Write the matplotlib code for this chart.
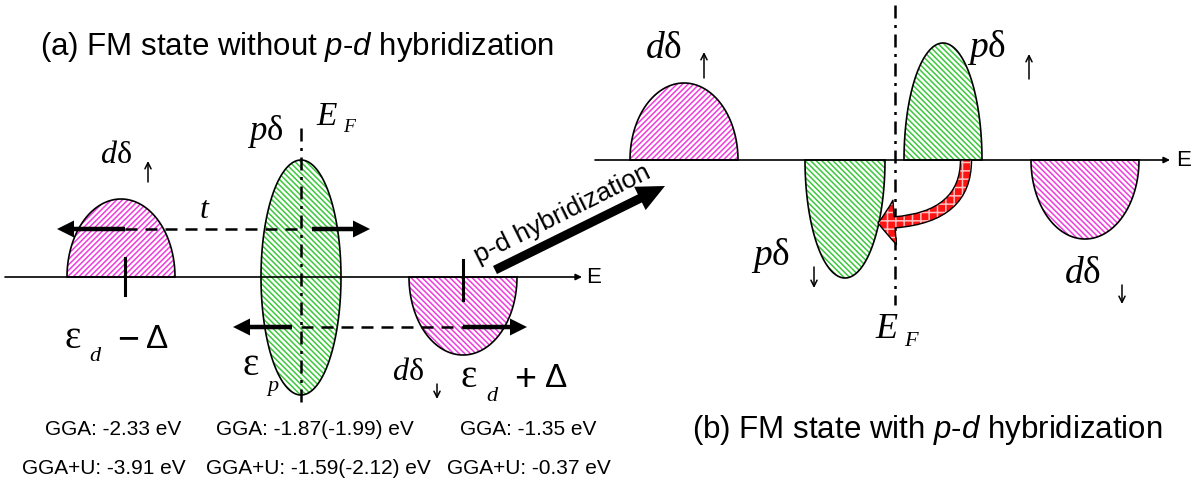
import numpy as np
import matplotlib.pyplot as plt
import matplotlib.patches as patches

plt.rcParams['hatch.linewidth'] = 1.1
plt.rcParams['mathtext.fontset'] = 'custom'
plt.rcParams['mathtext.rm'] = 'Liberation Serif'
plt.rcParams['mathtext.it'] = 'Liberation Serif:italic'
plt.rcParams['mathtext.sf'] = 'Liberation Sans:italic'

PINK = '#f03cdc'
GREEN = '#3cc83c'
SANS = 'Liberation Sans'
SERIF = 'Liberation Serif'

# panel (a): bands along the energy axis (pixel units, y grows downward)
A_BASE = 277
A_CENTER = [121, 301, 463]
A_HALFW = [54, 40, 54]
A_UP = [78, 117, 0]
A_DOWN = [0, 118, 78]
A_COLOR = [PINK, GREEN, PINK]
A_HATCH = ['//////', '\\' * 6, '\\' * 6]

# panel (b): after p-d hybridization
B_BASE = 160
B_CENTER = [684, 943, 845, 1085]
B_HALFW = [54, 39, 40, 54]
B_UP = [77, 117, 0, 0]
B_DOWN = [0, 0, 118, 79]
B_COLOR = [PINK, GREEN, GREEN, PINK]
B_HATCH = ['//////', '\\' * 6, '\\' * 6, '\\' * 6]

# level energies
GGA = ['GGA: -2.33 eV', 'GGA: -1.87(-1.99) eV', 'GGA: -1.35 eV']
GGAU = ['GGA+U: -3.91 eV', 'GGA+U: -1.59(-2.12) eV', 'GGA+U: -0.37 eV']
GGA_X = [113, 315, 528]
GGAU_X = [104, 318, 529]


def draw_band(ax, c, hw, up, down, base, color, hatch):
    t = np.linspace(0, 2 * np.pi, 200)
    s = np.sin(t)
    x = c + hw * np.cos(t)
    y = base - np.where(s > 0, up, down) * s
    xy = np.column_stack([x, y])
    ax.add_patch(patches.Polygon(xy, closed=True, facecolor='white',
                                 edgecolor=color, hatch=hatch, lw=0))
    ax.add_patch(patches.Polygon(xy, closed=True, fill=False,
                                 edgecolor='black', lw=1.2))


def thick_arrow(ax, x0, y0, x1, y1, width=4.5, hw=17, hl=17):
    ax.arrow(x0, y0, x1 - x0, y1 - y0, width=width, head_width=hw,
             head_length=hl, length_includes_head=True, color='black', lw=0)


def thin_arrow(ax, x, y0, y1):
    ax.annotate('', xy=(x, y1), xytext=(x, y0),
                arrowprops=dict(arrowstyle='->', lw=1.1, color='black',
                                mutation_scale=11, shrinkA=0, shrinkB=0))


def axis_line(ax, x0, x1, y):
    ax.annotate('', xy=(x1, y), xytext=(x0, y),
                arrowprops=dict(arrowstyle='-|>', lw=1.2, color='black',
                                mutation_scale=9, shrinkA=0, shrinkB=0))


fig = plt.figure(figsize=(12.02, 4.86), dpi=100)
ax = fig.add_axes([0, 0, 1, 1])
ax.set_xlim(0, 1202)
ax.set_ylim(486, 0)
ax.axis('off')

dashdot = (0, (5.2, 2.6, 1.2, 2.6))
dashed = (0, (4.8, 3.2))

# ---------------- panel (a) ----------------
for i in range(len(A_CENTER)):
    draw_band(ax, A_CENTER[i], A_HALFW[i], A_UP[i], A_DOWN[i], A_BASE,
              A_COLOR[i], A_HATCH[i])
axis_line(ax, 5, 582, A_BASE)
ax.text(586, A_BASE, 'E', fontsize=16, family=SANS, va='center')

ax.plot([A_CENTER[1]] * 2, [128, 405], color='black', lw=1.8, ls=dashdot)
ax.plot([125, 125], [258, 295], color='black', lw=2.2)
ax.plot([A_CENTER[2], A_CENTER[2]], [260, 300], color='black', lw=2.2)

# hopping t
ax.plot([125, 301], [229, 229], color='black', lw=1.8, ls=dashed)
ax.plot([301, 463], [327, 327], color='black', lw=1.8, ls=dashed)
thick_arrow(ax, 125, 229, 57, 229)
thick_arrow(ax, 312, 229, 370, 229)
thick_arrow(ax, 292, 327, 233, 327)
thick_arrow(ax, 463, 327, 527, 327)

# hybridization arrow
thick_arrow(ax, 495, 270, 665, 186, width=9, hw=26, hl=28)
ax.text(562, 214, 'p-d hybridization', fontsize=19, family=SANS,
        rotation=26.5, rotation_mode='anchor', ha='center', va='center')

ax.text(297, 47, r'(a) FM state without $\mathsf{p}$-$\mathsf{d}$ hybridization',
        fontsize=22.5, family=SANS, ha='center', va='center')

# labels panel (a)
ax.text(100, 163, r'$d\mathrm{\delta}$', fontsize=23)
thin_arrow(ax, 148, 182, 161)
ax.text(247, 140, r'$p\mathrm{\delta}$', fontsize=25)
ax.text(316, 125, 'E', fontsize=24, family=SERIF, style='italic')
ax.text(343, 132, 'F', fontsize=14, family=SERIF, style='italic')
ax.text(200, 218, 't', fontsize=23, family=SERIF, style='italic')

ax.text(65, 348, 'ε', fontsize=28, family=SERIF)
ax.text(89, 361, 'd', fontsize=16, family=SERIF, style='italic')
ax.text(128, 340, '−', fontsize=27, family=SANS, ha='center', va='center')
ax.text(146, 348, 'Δ', fontsize=24, family=SANS)

ax.text(242, 375, 'ε', fontsize=28, family=SERIF)
ax.text(267, 391, 'p', fontsize=16, family=SERIF, style='italic')

ax.text(392, 380, r'$d\mathrm{\delta}$', fontsize=23)
thin_arrow(ax, 437, 384, 399)

ax.text(460, 387, 'ε', fontsize=28, family=SERIF)
ax.text(486, 401, 'd', fontsize=16, family=SERIF, style='italic')
ax.text(525, 380, '+', fontsize=27, family=SANS, ha='center', va='center')
ax.text(545, 387, 'Δ', fontsize=24, family=SANS)

for i in range(3):
    ax.text(GGA_X[i], 429, GGA[i], fontsize=15, family=SANS, ha='center', va='center')
    ax.text(GGAU_X[i], 468, GGAU[i], fontsize=15, family=SANS, ha='center', va='center')

# ---------------- panel (b) ----------------
for i in range(len(B_CENTER)):
    draw_band(ax, B_CENTER[i], B_HALFW[i], B_UP[i], B_DOWN[i], B_BASE,
              B_COLOR[i], B_HATCH[i])
axis_line(ax, 595, 1170, B_BASE)
ax.text(1176, B_BASE, 'E', fontsize=16, family=SANS, va='center')
ax.plot([895, 895], [5, 305], color='black', lw=1.8, ls=dashdot)

# charge transfer arrow p-up -> p-down
for face, edge, hatch, lw in [('#ff1414', '#ffc0c0', '++', 0), ('none', 'black', None, 1.0)]:
    arr = patches.FancyArrowPatch(
        (966, 160), (878, 223),
        connectionstyle='angle3,angleA=90,angleB=0',
        arrowstyle='simple,head_length=12,head_width=32,tail_width=8',
        mutation_scale=1, shrinkA=0, shrinkB=0,
        facecolor=face, edgecolor=edge, hatch=hatch, lw=lw, zorder=3)
    ax.add_patch(arr)

ax.text(645, 58, r'$d\mathrm{\delta}$', fontsize=27)
thin_arrow(ax, 704, 78, 52)
ax.text(967, 57, r'$p\mathrm{\delta}$', fontsize=27)
thin_arrow(ax, 1029, 79, 54)
ax.text(751, 265, r'$p\mathrm{\delta}$', fontsize=27)
thin_arrow(ax, 814, 267, 288)
ax.text(1064, 283, r'$d\mathrm{\delta}$', fontsize=27)
thin_arrow(ax, 1122, 285, 304)
ax.text(875, 338, 'E', fontsize=26, family=SERIF, style='italic')
ax.text(904, 346, 'F', fontsize=16, family=SERIF, style='italic')

ax.text(927, 430, r'(b) FM state with $\mathsf{p}$-$\mathsf{d}$ hybridization',
        fontsize=22.5, family=SANS, ha='center', va='center')

fig.savefig('out.png', dpi=100)
